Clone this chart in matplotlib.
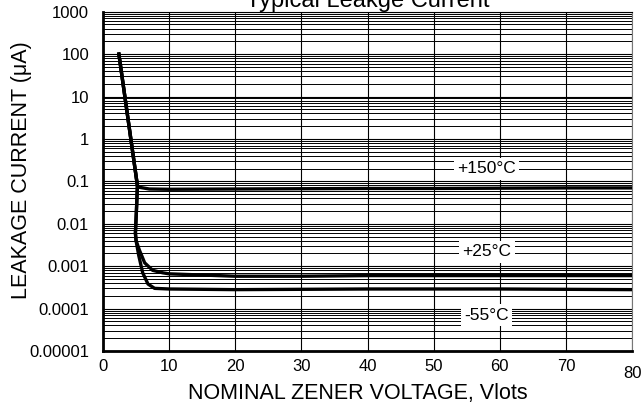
import matplotlib
matplotlib.use('Agg')
import matplotlib.pyplot as plt
from matplotlib.ticker import LogLocator, FixedLocator, NullFormatter
from matplotlib.transforms import ScaledTranslation

plt.rcParams['font.family'] = ['Liberation Sans', 'DejaVu Sans']

# data
x_150 = [2.4, 5.2, 5.6, 7, 10, 20, 30, 40, 50, 60, 70, 80]
y_150 = [100, 0.08, 0.072, 0.066, 0.065, 0.066, 0.067, 0.068, 0.068, 0.069, 0.07, 0.07]

x_25 = [2.4, 5.2, 5.1, 4.9, 5.0, 5.5, 6.3, 7.5, 9, 10, 20, 30, 40, 50, 60, 70, 80]
y_25 = [100, 0.08, 0.03, 0.006, 0.004, 0.0024, 0.0012, 0.0008, 0.0007, 0.00066,
        0.00058, 0.00058, 0.0006, 0.0006, 0.0006, 0.0006, 0.0006]

x_m55 = [2.4, 5.2, 5.1, 4.9, 5.0, 5.4, 6.0, 6.8, 7.8, 10, 20, 40, 60, 80]
y_m55 = [100, 0.08, 0.03, 0.006, 0.004, 0.0018, 0.0007, 0.00038, 0.0003, 0.00029,
         0.00028, 0.00029, 0.00029, 0.00028]

labels = ['+150°C', '+25°C', '-55°C']
label_x = [58, 58, 58]
label_y = [0.2, 0.0022, 0.00007]

x_ticks = [0, 10, 20, 30, 40, 50, 60, 70, 80]
y_ticks = [1e-5, 1e-4, 1e-3, 1e-2, 1e-1, 1, 10, 100, 1000]
y_tick_labels = ['0.00001', '0.0001', '0.001', '0.01', '0.1', '1', '10', '100', '1000']

fig = plt.figure(figsize=(6.43, 4.05), dpi=100)
ax = fig.add_axes([0.1602, 0.1333, 0.8227, 0.8378])

for xs, ys in [(x_150, y_150), (x_25, y_25), (x_m55, y_m55)]:
    ax.plot(xs, ys, color='black', lw=2.4, solid_joinstyle='round', zorder=3)

ax.set_yscale('log')
ax.set_xlim(0, 80)
ax.set_ylim(1e-5, 1000)
ax.xaxis.set_major_locator(FixedLocator(x_ticks))
ax.set_xticklabels([str(v) for v in x_ticks])
ax.yaxis.set_major_locator(FixedLocator(y_ticks))
ax.set_yticklabels(y_tick_labels)
ax.yaxis.set_minor_locator(LogLocator(base=10, subs=range(2, 10), numticks=20))
ax.yaxis.set_minor_formatter(NullFormatter())

ax.grid(True, which='major', axis='both', color='black', lw=0.8)
ax.grid(True, which='minor', axis='y', color='black', lw=0.7)
ax.tick_params(which='both', length=0)
ax.tick_params(axis='y', labelsize=12, pad=10)
ax.tick_params(axis='x', labelsize=12, pad=6)

for side in ['left', 'bottom']:
    ax.spines[side].set_linewidth(2)
ax.spines['right'].set_linewidth(0.8)
ax.spines['right'].set_color('#777777')
ax.spines['top'].set_linewidth(0.8)

# the "80" label sits a bit lower in the original
last = ax.get_xticklabels()[-1]
last.set_transform(last.get_transform() + ScaledTranslation(0, -5 / 72, fig.dpi_scale_trans))

for t, lx, ly in zip(labels, label_x, label_y):
    ax.text(lx, ly, t, ha='center', va='center', fontsize=12.5, zorder=4,
            bbox=dict(facecolor='white', edgecolor='none', pad=2.5))

fig.text(358 / 643, 1 - 394 / 405, 'NOMINAL ZENER VOLTAGE, Vlots',
         ha='center', va='center', fontsize=15.5)
fig.text(22 / 643, 1 - 170 / 405, 'LEAKAGE CURRENT (\u03bcA)',
         ha='center', va='center', rotation=90, fontsize=15.5)
fig.text(368 / 643, 1 - 7 / 405, 'Typical Leakge Current',
         ha='center', va='baseline', fontsize=17)

fig.savefig('out.png', dpi=100)
